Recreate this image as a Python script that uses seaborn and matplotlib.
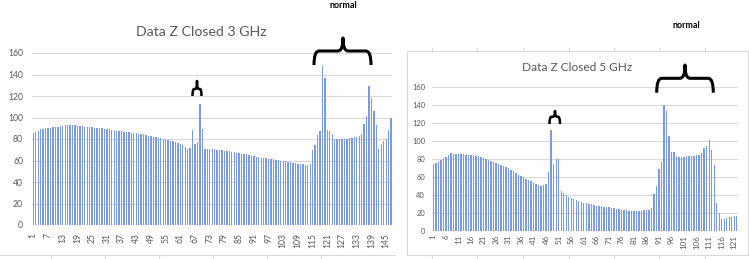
import matplotlib
matplotlib.use("Agg")
import matplotlib.pyplot as plt
from matplotlib.path import Path
from matplotlib.patches import PathPatch, Rectangle
from matplotlib.lines import Line2D
import seaborn as sns
import pandas as pd

# ---------------- data ----------------
values_3ghz = [
    85.9, 86.8, 87.4, 89.0, 89.6, 89.9, 90.2, 90.5, 90.9, 91.2,
    91.5, 91.8, 92.4, 93.3, 93.3, 93.0, 92.7, 92.7, 92.4, 92.1,
    91.8, 91.5, 91.2, 91.2, 90.9, 90.5, 90.2, 90.2, 89.9, 89.6,
    89.3, 89.0, 88.7, 88.0, 87.7, 87.4, 87.1, 86.8, 86.5, 86.2,
    85.9, 85.6, 85.3, 85.0, 84.6, 84.3, 83.5, 83.2, 82.5, 81.8,
    81.5, 81.2, 80.6, 80.3, 79.7, 79.1, 78.5, 77.9, 77.5, 76.2,
    75.2, 74.2, 72.2, 70.7, 71.3, 88.8, 75.8, 77.0, 113.0, 89.5,
    70.8, 70.6, 70.6, 70.5, 70.4, 69.9, 69.7, 69.5, 69.1, 68.9,
    68.5, 68.0, 67.8, 67.1, 66.9, 66.2, 66.0, 65.7, 65.1, 64.5,
    63.9, 63.6, 63.2, 62.7, 62.5, 62.1, 61.8, 61.5, 61.0, 60.6,
    60.2, 60.0, 59.6, 59.1, 58.6, 58.3, 57.9, 57.5, 57.1, 56.9,
    56.5, 56.1, 55.8, 56.4, 70.0, 74.5, 84.0, 87.0, 148.0, 136.5,
    88.0, 87.0, 84.5, 80.3, 80.1, 80.0, 80.0, 80.0, 80.2, 80.6,
    81.0, 81.4, 81.8, 82.8, 84.5, 94.0, 101.0, 129.0, 118.0, 106.5,
    93.0, 71.0, 75.0, 77.8, 80.0, 88.0, 99.5,
]
values_5ghz = [
    73.8, 74.9, 76.3, 78.6, 80.4, 82.2, 83.7, 86.0, 85.6, 85.3,
    84.9, 84.9, 84.8, 84.5, 84.2, 84.1, 83.8, 83.4, 83.0, 82.3,
    80.8, 79.3, 78.6, 77.5, 76.3, 75.2, 74.5, 73.4, 71.9, 70.4,
    69.3, 67.8, 66.7, 64.5, 61.9, 60.7, 59.3, 57.4, 56.3, 55.2,
    53.3, 51.9, 50.7, 50.0, 50.7, 51.9, 65.6, 111.9, 73.8, 79.3,
    79.3, 44.1, 41.5, 39.6, 37.8, 36.7, 35.2, 34.1, 33.0, 31.9,
    31.1, 30.4, 30.0, 29.3, 28.5, 27.8, 27.4, 27.0, 26.7, 26.3,
    25.9, 25.2, 24.8, 24.1, 23.7, 23.3, 23.0, 22.6, 22.2, 21.8,
    21.4, 21.6, 21.8, 22.0, 22.5, 23.0, 23.5, 24.9, 40.4, 49.7,
    68.2, 76.0, 139.7, 133.0, 105.2, 87.8, 87.0, 83.4, 81.5, 82.2,
    82.2, 82.5, 83.4, 83.4, 83.5, 84.1, 84.3, 86.7, 91.5, 94.1,
    100.8, 89.6, 73.0, 31.1, 19.3, 13.0, 13.3, 14.1, 14.8, 15.2,
    15.9, 16.7,
]
index_3ghz = list(range(1, len(values_3ghz) + 1))
index_5ghz = list(range(1, len(values_5ghz) + 1))
title_3ghz = "Data Z Closed 3 GHz"
title_5ghz = "Data Z Closed 5 GHz"
annotation_text = "normal"
yticks = [0, 20, 40, 60, 80, 100, 120, 140, 160]

# ---------------- style ----------------
sns.set_theme(style="white")
plt.rcParams["font.family"] = ["Lato", "DejaVu Sans"]

W, H = 749, 259
fig = plt.figure(figsize=(W / 100, H / 100), dpi=100)
fig.patch.set_facecolor("white")

BAR = "#7b9bdc"
GRID = "#d9d9d9"
TXT = "#595959"


def px_axes(x0, x1, ytop, ybot):
    return fig.add_axes([x0 / W, (H - ybot) / H, (x1 - x0) / W, (ybot - ytop) / H])


def fx(x):
    return x / W


def fy(y):
    return (H - y) / H


def style_axes(ax, n, step, ysize, xsize, ypad, xpad):
    ax.set_ylim(0, 160)
    ax.set_xlim(-0.5, n - 0.5)
    ax.set_yticks(yticks)
    ax.set_yticklabels([str(v) for v in yticks], fontsize=ysize, color=TXT)
    pos = list(range(0, n, step))
    ax.set_xticks(pos)
    ax.set_xticklabels([str(p + 1) for p in pos], rotation=90, fontsize=xsize, color=TXT)
    ax.tick_params(axis="both", length=0)
    ax.tick_params(axis="y", pad=ypad)
    ax.tick_params(axis="x", pad=xpad)
    ax.yaxis.grid(True, color=GRID, lw=0.8)
    ax.xaxis.grid(False)
    ax.set_axisbelow(True)
    for s in ax.spines.values():
        s.set_visible(False)
    ax.set_xlabel("")
    ax.set_ylabel("")
    ax.set_facecolor("none")


# ---------------- right chart frame (behind) ----------------
fig.add_artist(Rectangle((fx(407), fy(255)), fx(747.5) - fx(407), fy(51) - fy(255),
                         transform=fig.transFigure, fill=False, ec=GRID, lw=0.8, zorder=0))
for xt in [431.7, 477, 522.7, 568.7, 614, 659, 705]:
    fig.add_artist(Line2D([fx(xt), fx(xt)], [fy(51), fy(48)], transform=fig.transFigure,
                          color=GRID, lw=0.8))
    fig.add_artist(Line2D([fx(xt), fx(xt)], [fy(255), fy(258)], transform=fig.transFigure,
                          color=GRID, lw=0.8))
# left bottom line remnant
fig.add_artist(Line2D([0, fx(395)], [fy(255), fy(255)], transform=fig.transFigure,
                      color=GRID, lw=0.8))
for xt in [50.7, 104.7, 158.7, 212.7, 266.7, 320.7]:
    fig.add_artist(Line2D([fx(xt), fx(xt)], [fy(255), fy(258)], transform=fig.transFigure,
                          color=GRID, lw=0.8))

# ---------------- left chart ----------------
df3 = pd.DataFrame({"idx": index_3ghz, "val": values_3ghz})
ax1 = px_axes(32.1, 392.3, 53, 225)
sns.barplot(data=df3, x="idx", y="val", ax=ax1, color=BAR, width=0.55,
            linewidth=0, saturation=1)
style_axes(ax1, len(values_3ghz), 6, 6.2, 6.2, 6.5, 5.5)

# ---------------- right chart ----------------
df5 = pd.DataFrame({"idx": index_5ghz, "val": values_5ghz})
ax2 = px_axes(432.05, 738.05, 86.7, 230.7)
sns.barplot(data=df5, x="idx", y="val", ax=ax2, color=BAR, width=0.55,
            linewidth=0, saturation=1)
style_axes(ax2, len(values_5ghz), 5, 5.4, 5.8, 5.0, 3.0)

# ---------------- titles ----------------
fig.text(fx(201.7), fy(32), title_3ghz, ha="center", va="center", fontsize=10.2, color=TXT)
fig.text(fx(576.7), fy(67.7), title_5ghz, ha="center", va="center", fontsize=8.6, color=TXT)

# ---------------- annotations ----------------
fig.text(fx(343), fy(5), annotation_text, ha="center", va="center", fontsize=6.5,
         fontweight="bold", color="black")
fig.text(fx(686.7), fy(25), annotation_text, ha="center", va="center", fontsize=6.5,
         fontweight="bold", color="black")


def brace(x0, x1, xc, y_end, y_bar, y_tip, lw):
    r = min((xc - x0) * 0.35, (y_end - y_bar) * 0.9, 5)
    pts = [
        (x0, y_end), (x0, y_bar), (x0 + r, y_bar),
        (xc - r, y_bar), (xc, y_bar), (xc, y_tip),
        (xc, y_bar), (xc + r, y_bar),
        (x1 - r, y_bar), (x1, y_bar), (x1, y_end),
    ]
    codes = [Path.MOVETO, Path.CURVE3, Path.CURVE3,
             Path.LINETO, Path.CURVE3, Path.CURVE3,
             Path.CURVE3, Path.CURVE3,
             Path.LINETO, Path.CURVE3, Path.CURVE3]
    path = Path([(fx(x), fy(y)) for x, y in pts], codes)
    fig.add_artist(PathPatch(path, transform=fig.transFigure, fill=False, ec="black",
                             lw=lw, capstyle="butt", joinstyle="round"))


brace(314, 371, 343, 65, 51, 38, 2.2)
brace(192.5, 201.5, 197, 96, 89, 81, 1.8)
brace(656.7, 713.3, 685, 92.7, 78.3, 65, 2.2)
brace(549.5, 560, 555, 124, 116.7, 111, 1.8)

fig.savefig("out.png", dpi=100, facecolor="white")
